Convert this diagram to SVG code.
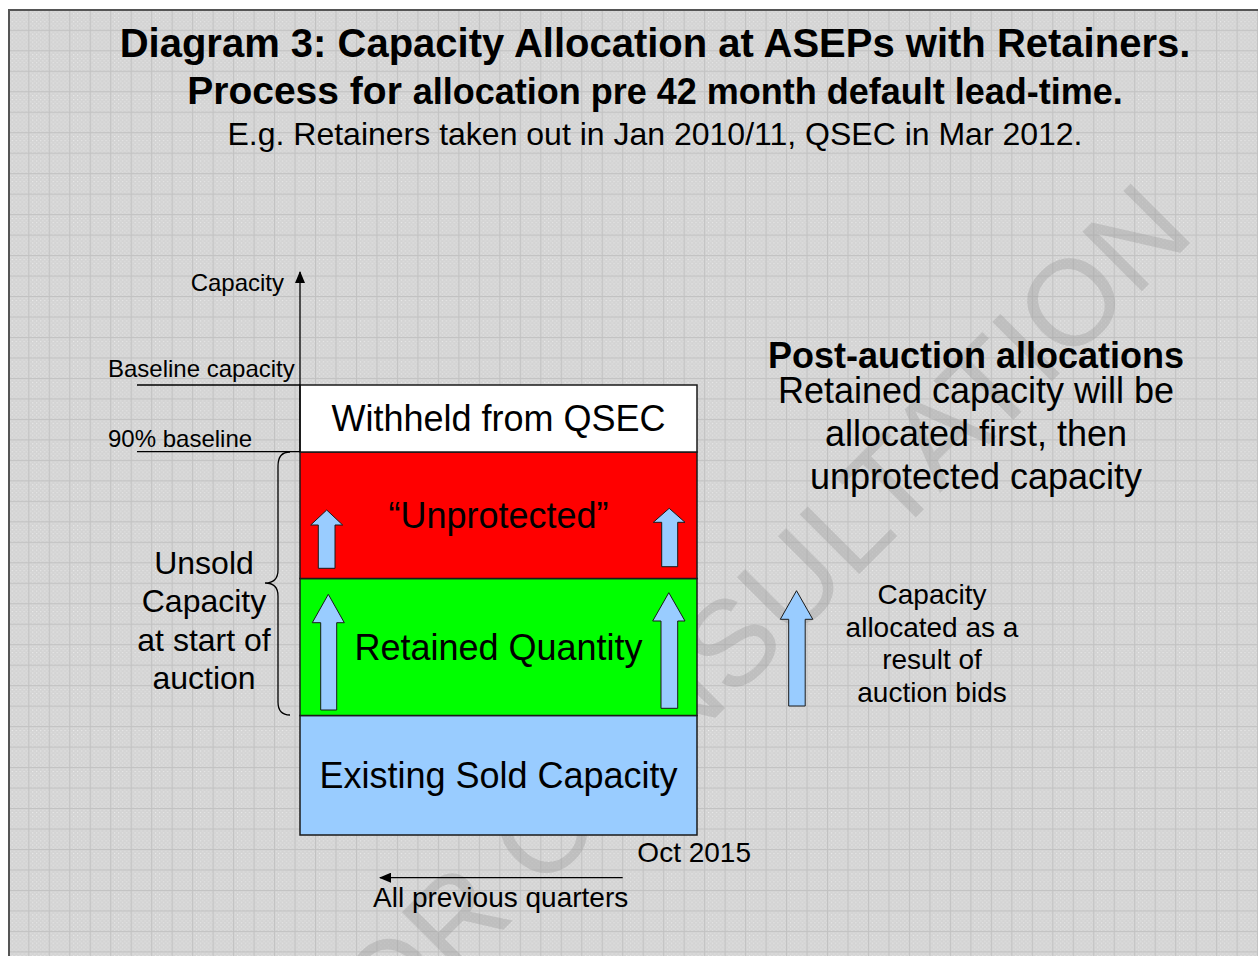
<svg xmlns="http://www.w3.org/2000/svg" width="1258" height="956" viewBox="0 0 1258 956">
<defs>
  <pattern id="dots" patternUnits="userSpaceOnUse" x="0" y="0" width="4" height="4">
    <rect width="4" height="4" fill="#d3d3d3"/>
    <rect x="0" y="0" width="1" height="1" fill="#efefef"/>
    <rect x="2" y="2" width="1" height="1" fill="#efefef"/>
  </pattern>
  <pattern id="grid" patternUnits="userSpaceOnUse" x="7.8" y="9.3" width="20.48" height="20.48">
    <rect width="20.48" height="20.48" fill="url(#dots)"/>
    <rect x="0" y="0" width="20.48" height="1" fill="#c2c2c2"/>
    <rect x="0" y="0" width="1" height="20.48" fill="#c2c2c2"/>
  </pattern>
  <marker id="ah" markerWidth="12" markerHeight="10" refX="11" refY="5" orient="auto" markerUnits="userSpaceOnUse">
    <path d="M0,0 L12,5 L0,10 Z" fill="#000"/>
  </marker>
</defs>
<style>
  text { font-family: "Liberation Sans", Arial, sans-serif; fill: #000; }
  text.wm { fill: #9a9a9a; fill-opacity: 0.38; }
  .b { font-weight: bold; }
  .box { stroke: #1a1a1a; stroke-width: 1.5; }
  .barrow { fill: #99ccff; stroke: #1a1a1a; stroke-width: 1; }
  .ln { stroke: #000; stroke-width: 1.3; fill: none; }
  .c { text-anchor: middle; }
</style>

<rect x="0" y="0" width="1258" height="956" fill="#ffffff"/>
<rect x="9" y="10" width="1300" height="1000" fill="url(#grid)" stroke="#555555" stroke-width="2"/>

<g id="watermark">
  <text class="wm" x="0" y="0" font-size="122" text-anchor="end" transform="translate(1197,236) rotate(-45)">FOR CONSULTATION</text>
</g>

<g id="title">
  <text class="b c" x="655" y="57" font-size="40">Diagram 3: Capacity Allocation at ASEPs with Retainers.</text>
  <text class="b c" x="655" y="104" font-size="36"><tspan font-size="39">Process for </tspan>allocation pre 42 month default lead-time.</text>
  <text class="c" x="655" y="145" font-size="32">E.g. Retainers taken out in Jan 2010/11, QSEC in Mar 2012.</text>
</g>

<g id="existing">
  <rect class="box" x="300" y="715.5" width="397" height="119.5" fill="#99ccff"/>
  <text class="c" x="498.5" y="788" font-size="36">Existing Sold Capacity</text>
</g>
<g id="retained">
  <rect class="box" x="300" y="578.5" width="397" height="137" fill="#00ff00"/>
  <text class="c" x="498.5" y="660" font-size="36">Retained Quantity</text>
  <path class="barrow" d="M328.3,594.3 L344.3,622.7 L336.7,622.7 L336.7,710 L320.7,710 L320.7,622.7 L312.3,622.7 Z"/>
  <path class="barrow" d="M668.8,592.7 L685,621 L677.7,621 L677.7,708.3 L661,708.3 L661,621 L652.7,621 Z"/>
</g>
<g id="unprotected">
  <rect class="box" x="300" y="452" width="397" height="126.5" fill="#ff0000"/>
  <text class="c" x="498.5" y="528" font-size="36">“Unprotected”</text>
  <path class="barrow" d="M326.7,510 L342.7,525 L335,525 L335,568.3 L318.3,568.3 L318.3,525 L310.7,525 Z"/>
  <path class="barrow" d="M669.2,508.3 L685,522.3 L677.7,522.3 L677.7,566.7 L661.7,566.7 L661.7,522.3 L653.3,522.3 Z"/>
</g>
<g id="withheld">
  <rect class="box" x="300" y="385" width="397" height="67" fill="#ffffff"/>
  <text class="c" x="498.5" y="431" font-size="36">Withheld from QSEC</text>
</g>

<g id="axis-labels">
  <text x="284" y="291" font-size="24" text-anchor="end">Capacity</text>
  <text x="108" y="377" font-size="24">Baseline capacity</text>
  <text x="108" y="447" font-size="24">90% baseline</text>
  <text x="751" y="862" font-size="28" text-anchor="end">Oct 2015</text>
  <text x="373" y="907" font-size="28">All previous quarters</text>
</g>

<g id="unsold">
  <path class="ln" d="M290,452 Q278,452 278,466 L278,570 Q278,583 265,583 Q278,583 278,596 L278,702 Q278,715 290,715" stroke-width="1.2"/>
  <text class="c" x="204" y="574" font-size="32">Unsold</text>
  <text class="c" x="204" y="612" font-size="32">Capacity</text>
  <text class="c" x="204" y="651" font-size="32">at start of</text>
  <text class="c" x="204" y="689" font-size="32">auction</text>
</g>

<g id="post-auction">
  <text class="b c" x="976" y="368" font-size="36">Post-auction allocations</text>
  <text class="c" x="976" y="403" font-size="36">Retained capacity will be</text>
  <text class="c" x="976" y="446" font-size="36">allocated first, then</text>
  <text class="c" x="976" y="489" font-size="36">unprotected capacity</text>
</g>

<g id="legend">
  <path class="barrow" d="M796.5,590.7 L812.8,619.3 L805.2,619.3 L805.2,706 L788.7,706 L788.7,619.3 L780.3,619.3 Z"/>
  <text class="c" x="932" y="604" font-size="28">Capacity</text>
  <text class="c" x="932" y="637" font-size="28">allocated as a</text>
  <text class="c" x="932" y="669" font-size="28">result of</text>
  <text class="c" x="932" y="702" font-size="28">auction bids</text>
</g>

<g id="connectors">
  <line class="ln" x1="300" y1="452" x2="300" y2="272" marker-end="url(#ah)"/>
  <line class="ln" x1="137" y1="385" x2="300" y2="385"/>
  <line class="ln" x1="137" y1="451.7" x2="300" y2="451.7"/>
  <line class="ln" x1="622.7" y1="877.7" x2="380" y2="877.7" marker-end="url(#ah)"/>
</g>
</svg>
